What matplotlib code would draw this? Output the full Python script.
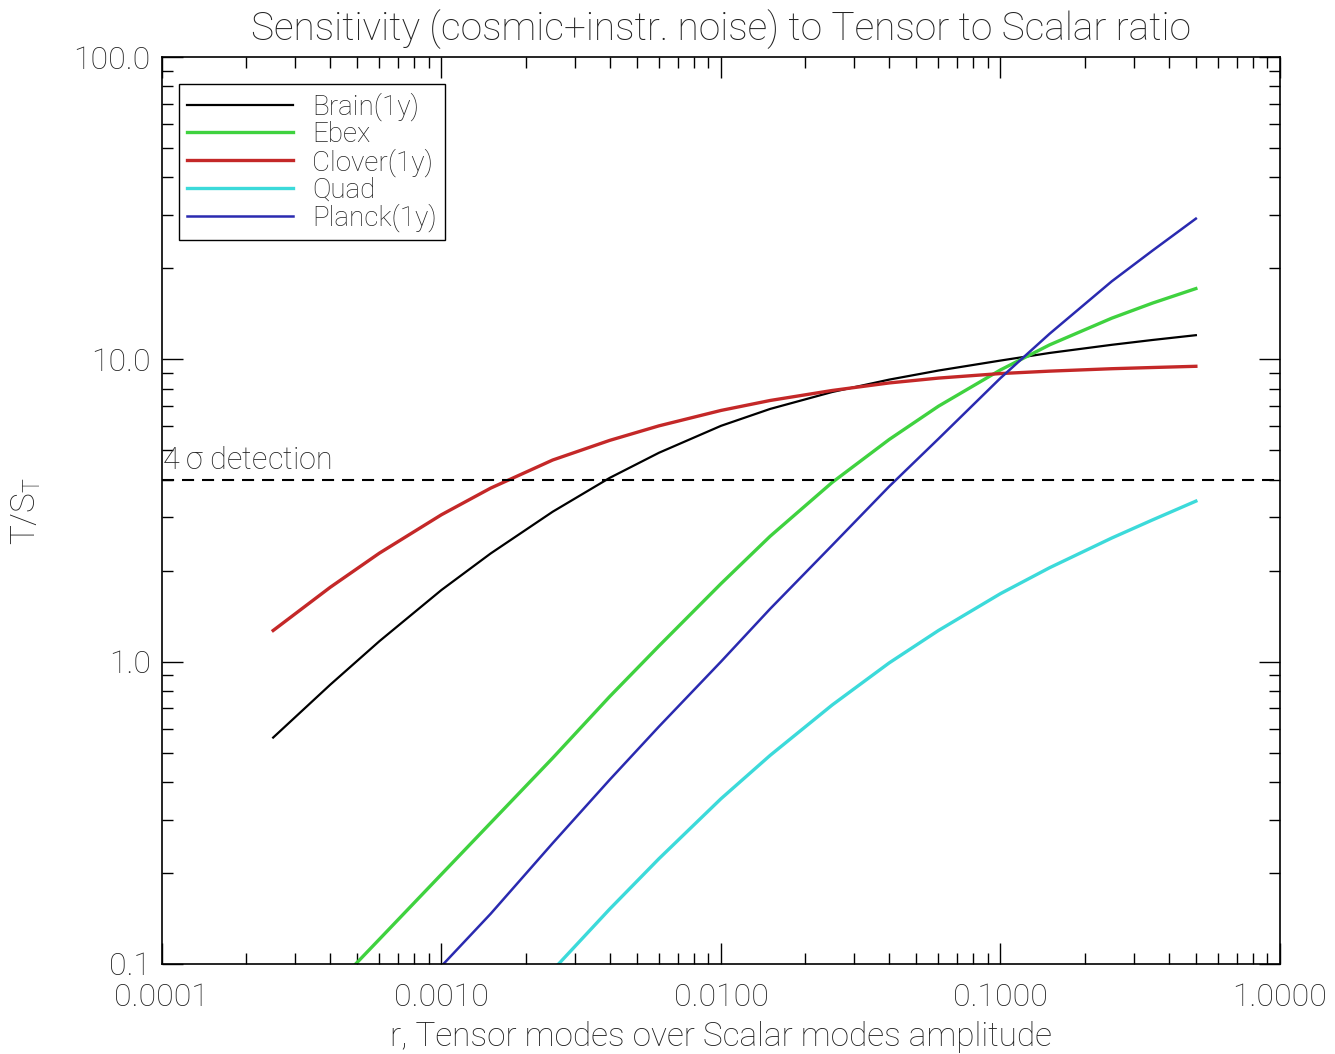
import matplotlib
matplotlib.use("Agg")
import matplotlib.pyplot as plt
import numpy as np

plt.rcParams['font.family'] = ['Roboto', 'DejaVu Sans']
plt.rcParams['font.weight'] = 'light'
plt.rcParams['axes.labelweight'] = 'light'
plt.rcParams['axes.titleweight'] = 'light'
plt.rcParams['mathtext.default'] = 'regular'

# tensor to scalar ratio r
r = [0.00025, 0.0004, 0.0006, 0.001, 0.0015, 0.0025, 0.004, 0.006, 0.01,
     0.015, 0.025, 0.04, 0.06, 0.1, 0.15, 0.25, 0.35, 0.5]

brain = [0.561, 0.839, 1.169, 1.726, 2.280, 3.133, 4.055, 4.909, 6.026,
         6.855, 7.798, 8.570, 9.183, 9.908, 10.50, 11.17, 11.59, 12.02]
ebex = [0.0519, 0.0817, 0.1208, 0.198, 0.293, 0.480, 0.767, 1.127, 1.811,
        2.600, 3.917, 5.433, 6.998, 9.226, 11.17, 13.68, 15.35, 17.14]
clover = [1.268, 1.762, 2.286, 3.062, 3.750, 4.645, 5.395, 6.026, 6.776,
          7.311, 7.889, 8.356, 8.670, 8.974, 9.141, 9.311, 9.397, 9.484]
quad = [0.00998, 0.0158, 0.0235, 0.0388, 0.0577, 0.0953, 0.152, 0.223, 0.352,
        0.490, 0.719, 0.991, 1.268, 1.679, 2.046, 2.564, 2.944, 3.396]
planck = [0.0251, 0.0399, 0.0594, 0.0984, 0.1466, 0.251, 0.407, 0.610, 1.0,
          1.496, 2.427, 3.80, 5.46, 8.67, 12.16, 18.11, 22.9, 29.2]

names = ["Brain(1y)", "Ebex", "Clover(1y)", "Quad", "Planck(1y)"]
colors = ["#000000", "#3fd23f", "#c42828", "#3cdada", "#2a2ab0"]
widths = [1.6, 2.4, 2.4, 2.4, 1.8]

x_ticks = [0.0001, 0.001, 0.01, 0.1, 1.0]
y_ticks = [0.1, 1.0, 10.0, 100.0]
detect_level = 4.0

txt = '#222222'

fig = plt.figure(figsize=(13.35, 10.54), dpi=100)
ax = fig.add_axes([0.1213, 0.0854, 0.8375, 0.8605])

for y, name, c, lw in zip([brain, ebex, clover, quad, planck], names, colors, widths):
    ax.plot(r, y, color=c, lw=lw, label=name)

ax.axhline(detect_level, color='black', lw=1.5, ls=(0, (5.8, 3.8)))
ax.text(1.0e-4, 4.15, r"4 $\sigma$ detection", fontsize=22, color=txt,
        va='bottom', ha='left')

ax.set_xscale('log')
ax.set_yscale('log')
ax.set_xlim(1e-4, 1.0)
ax.set_ylim(0.1, 100)
ax.set_xticks(x_ticks)
ax.set_xticklabels(["%.4f" % v for v in x_ticks])
ax.set_yticks(y_ticks)
ax.set_yticklabels(["%.1f" % v for v in y_ticks])

ax.tick_params(which='both', direction='in', top=True, right=True, colors='black',
               labelcolor=txt, labelsize=23, width=1)
ax.tick_params(which='major', length=15)
ax.tick_params(which='minor', length=8)
ax.tick_params(axis='x', which='major', pad=14)
ax.tick_params(axis='y', which='major', pad=8)
for s in ax.spines.values():
    s.set_linewidth(1.2)

ax.set_title("Sensitivity (cosmic+instr. noise) to Tensor to Scalar ratio",
             fontsize=28, color=txt, pad=12)
ax.set_xlabel("r, Tensor modes over Scalar modes amplitude", fontsize=24,
              color=txt, labelpad=6)
ax.set_ylabel(r"T/S$_{T}$", fontsize=24, color=txt, labelpad=22)

leg = ax.legend(loc='upper left', bbox_to_anchor=(0.0152, 0.970), borderaxespad=0,
                fontsize=20, fancybox=False, framealpha=1, edgecolor='black',
                handlelength=3.8, handletextpad=0.7, labelspacing=0.0,
                borderpad=0.3)
leg.get_frame().set_linewidth(1.0)
for t in leg.get_texts():
    t.set_color(txt)

fig.savefig("out.png", dpi=100)
